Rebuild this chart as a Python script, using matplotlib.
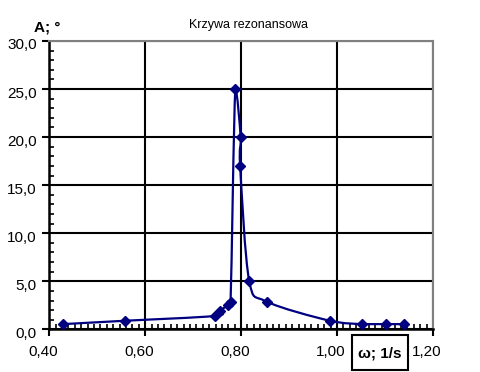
import numpy as np
import matplotlib.pyplot as plt
from matplotlib.path import Path
from matplotlib.patches import PathPatch, Rectangle
from matplotlib.ticker import MultipleLocator, FuncFormatter
from matplotlib.transforms import ScaledTranslation

plt.rcParams['font.family'] = ['Liberation Sans', 'DejaVu Sans']

# dane
omega = [0.429, 0.558, 0.745, 0.757, 0.772, 0.778, 0.788, 0.799, 0.798,
         0.817, 0.853, 0.985, 1.053, 1.103, 1.140]
amplituda = [0.55, 0.9, 1.4, 1.95, 2.55, 2.86, 25.0, 20.0, 17.0,
             5.0, 2.9, 0.9, 0.55, 0.55, 0.55]

tytul = "Krzywa rezonansowa"
etykieta_x = "ω; 1/s"
etykieta_y = "A; °"

navy = "#000080"


def smooth_path(x, y):
    # wygladzona linia jak w Excelu (Catmull-Rom -> Bezier)
    pts = np.column_stack([x, y])
    verts = [pts[0]]
    codes = [Path.MOVETO]
    n = len(pts)
    for i in range(n - 1):
        p0 = pts[max(i - 1, 0)]
        p1 = pts[i]
        p2 = pts[i + 1]
        p3 = pts[min(i + 2, n - 1)]
        c1 = p1 + (p2 - p0) / 6
        c2 = p2 - (p3 - p1) / 6
        lo, hi = min(p1[1], p2[1]), max(p1[1], p2[1])
        c1[1] = np.clip(c1[1], lo, hi)
        c2[1] = np.clip(c2[1], lo, hi)
        verts += [c1, c2, p2]
        codes += [Path.CURVE4] * 3
    return Path(verts, codes)


fig = plt.figure(figsize=(4.81, 3.72), dpi=100)
ax = fig.add_axes([0.1025, 0.1145, 0.7975, 0.7755])

ax.set_xlim(0.4, 1.2)
ax.set_ylim(0, 30)

ax.xaxis.set_major_locator(MultipleLocator(0.2))
ax.xaxis.set_minor_locator(MultipleLocator(0.2 / 15))
ax.yaxis.set_major_locator(MultipleLocator(5))
ax.yaxis.set_minor_locator(MultipleLocator(1))
ax.xaxis.set_major_formatter(FuncFormatter(lambda v, p: f"{v:.2f}".replace('.', ',')))
ax.yaxis.set_major_formatter(FuncFormatter(lambda v, p: f"{v:.1f}".replace('.', ',')))

ax.grid(True, which='major', color='black', linewidth=1.5)
ax.set_axisbelow(True)

ax.tick_params(which='major', direction='out', length=5, width=1.5, labelsize=11, pad=4)
ax.tick_params(axis='x', which='major', pad=6)
ax.tick_params(which='minor', direction='in', length=3.5, width=1.2)
ax.tick_params(axis='x', which='minor', top=False)
ax.tick_params(axis='y', which='minor', right=False)

# etykiety przesuniete jak w oryginale
for lab in ax.get_xticklabels():
    lab.set_transform(lab.get_transform() + ScaledTranslation(-6 / 100, 0, fig.dpi_scale_trans))
for lab in ax.get_yticklabels():
    lab.set_transform(lab.get_transform() + ScaledTranslation(0, -3 / 100, fig.dpi_scale_trans))

for s in ['left', 'bottom']:
    ax.spines[s].set_color('black')
    ax.spines[s].set_linewidth(1.8)
for s in ['top', 'right']:
    ax.spines[s].set_color('#808080')
    ax.spines[s].set_linewidth(1.5)

ax.add_patch(PathPatch(smooth_path(omega, amplituda), facecolor='none',
                       edgecolor=navy, linewidth=1.6, zorder=3))
ax.plot(omega, amplituda, linestyle='none', marker='D', markersize=5,
        color=navy, zorder=4, clip_on=False)

fig.text(0.516, 0.932, tytul, ha='center', va='center', fontsize=9)
fig.text(0.099, 0.927, etykieta_y, ha='center', va='center', fontsize=11, fontweight='bold')

fig.patches.append(Rectangle((352 / 481, 2 / 372), 56 / 481, 35 / 372, transform=fig.transFigure,
                             facecolor='white', edgecolor='black', linewidth=1.5, zorder=5))
fig.text(380 / 481, 1 - 354 / 372, etykieta_x, ha='center', va='center', fontsize=11,
         fontweight='bold', zorder=6)

fig.savefig('out.png', dpi=100)
